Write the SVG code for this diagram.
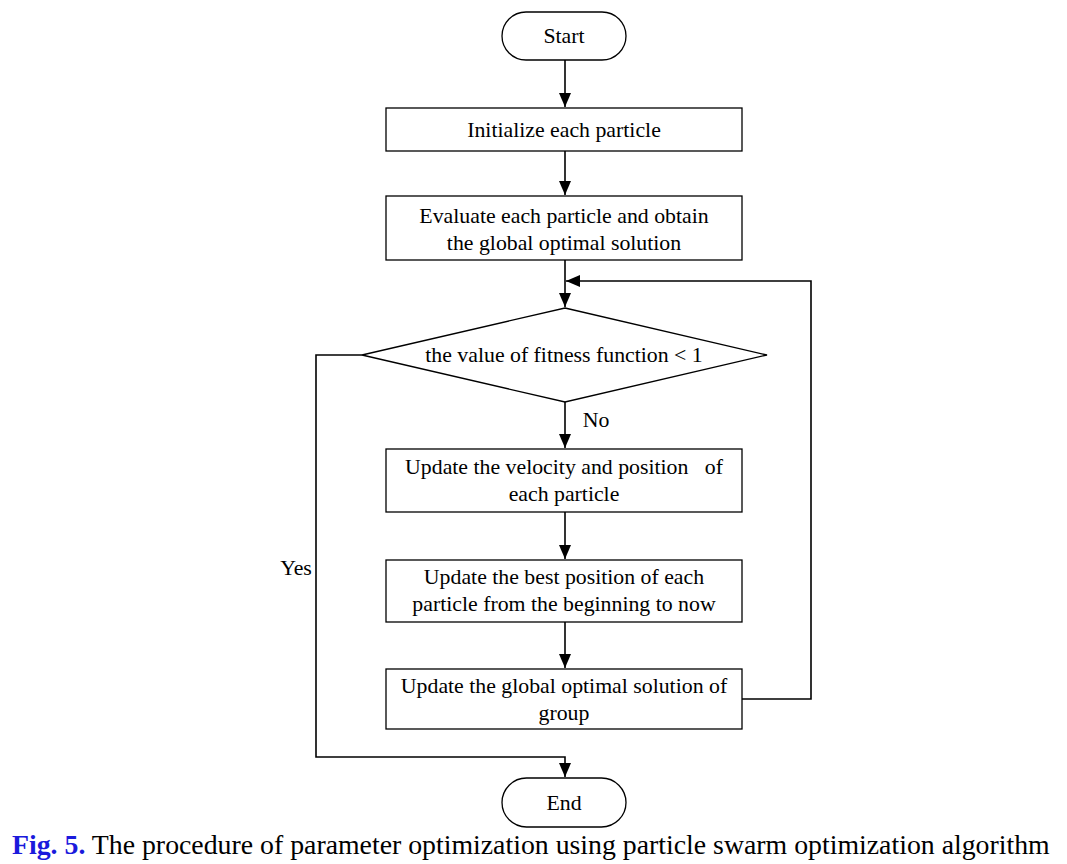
<svg xmlns="http://www.w3.org/2000/svg" width="1067" height="864" viewBox="0 0 1067 864">
<defs>
<marker id="arr" viewBox="0 0 14 12" refX="14" refY="6" markerWidth="14" markerHeight="12" markerUnits="userSpaceOnUse" orient="auto">
<path d="M0,0 L14,6 L0,12 z" fill="#000"/>
</marker>
<style>
.n{fill:#fff;stroke:#000;stroke-width:1.3}
.t{font-family:"Liberation Serif","Times New Roman",serif;font-size:21.8px;fill:#000;text-anchor:middle}
.c{fill:none;stroke:#000;stroke-width:1.6}
</style>
</defs>
<rect width="1067" height="864" fill="#fff"/>
<g id="connectors">
<path class="c" d="M565,60 V107" marker-end="url(#arr)"/>
<path class="c" d="M565,151 V195" marker-end="url(#arr)"/>
<path class="c" d="M565,260 V307" marker-end="url(#arr)"/>
<path class="c" d="M742,699 H811 V281 H566" marker-end="url(#arr)"/>
<path class="c" d="M565,402 V448" marker-end="url(#arr)"/>
<path class="c" d="M565,512 V559" marker-end="url(#arr)"/>
<path class="c" d="M565,622 V668" marker-end="url(#arr)"/>
<path class="c" d="M362,355 H316 V757 H565 V777" marker-end="url(#arr)"/>
<text class="t" x="596" y="427">No</text>
<text class="t" x="296" y="575">Yes</text>
</g>
<g id="start">
<rect class="n" x="502" y="12" width="124" height="48" rx="24"/>
<text class="t" x="564" y="43">Start</text>
</g>
<g id="init">
<rect class="n" x="386" y="108" width="356" height="43"/>
<text class="t" x="564" y="137">Initialize each particle</text>
</g>
<g id="evaluate">
<rect class="n" x="386" y="196" width="356" height="64"/>
<text class="t" x="564" y="223">Evaluate each particle and obtain</text>
<text class="t" x="564" y="250">the global optimal solution</text>
</g>
<g id="decision">
<polygon class="n" points="565,308 767,355 565,402 362,355"/>
<text class="t" x="564" y="362">the value of fitness function &lt; 1</text>
</g>
<g id="update-velocity">
<rect class="n" x="386" y="449" width="356" height="63"/>
<text class="t" x="564" y="474" xml:space="preserve">Update the velocity and position   of</text>
<text class="t" x="564" y="501">each particle</text>
</g>
<g id="update-best">
<rect class="n" x="386" y="560" width="356" height="62"/>
<text class="t" x="564" y="584">Update the best position of each</text>
<text class="t" x="564" y="611">particle from the beginning to now</text>
</g>
<g id="update-global">
<rect class="n" x="386" y="669" width="356" height="60"/>
<text class="t" x="564" y="693">Update the global optimal solution of</text>
<text class="t" x="564" y="720">group</text>
</g>
<g id="end">
<rect class="n" x="502" y="778" width="124" height="49" rx="24.5"/>
<text class="t" x="564" y="810">End</text>
</g>
<text x="12" y="854" font-family="'Liberation Serif','Times New Roman',serif" font-size="27.8" fill="#000"><tspan fill="#1a1adc" font-weight="bold">Fig. 5.</tspan> The procedure of parameter optimization using particle swarm optimization algorithm</text>
</svg>
